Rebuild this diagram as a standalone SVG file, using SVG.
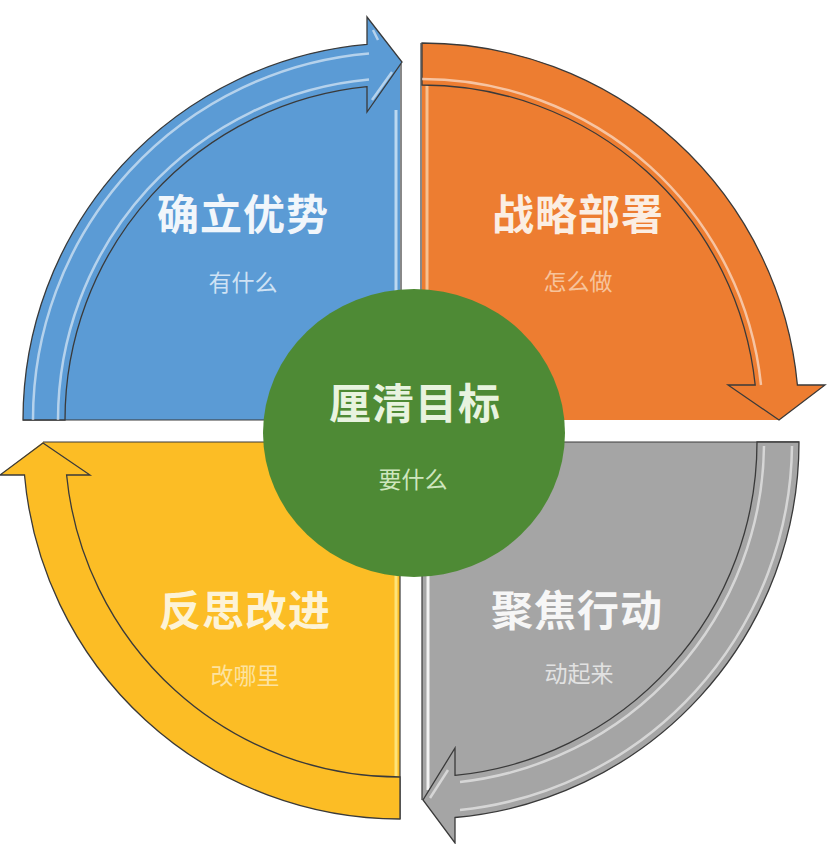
<svg xmlns="http://www.w3.org/2000/svg" width="834" height="844" viewBox="0 0 834 844">
<style>
.title{font-family:"Noto Sans CJK SC","Noto Sans",sans-serif;font-size:42px;font-weight:bold;text-anchor:middle;letter-spacing:1px}
.sub{font-family:"Noto Sans CJK SC","Noto Sans",sans-serif;font-size:23px;text-anchor:middle}
.band{stroke:#3a3a3a;stroke-width:1.3;stroke-linejoin:miter}
.hl{fill:none;stroke:#ffffff;stroke-width:2.5;stroke-opacity:0.55}
.edge{fill:none;stroke:#3a3a3a;stroke-width:1.2}
</style>
<rect width="834" height="844" fill="#ffffff"/>

<g id="node-blue">
<path d="M400 420 L23 420 A377 377 0 0 1 367 44.4 L367 17 L402 62 L400 66 Z" fill="#5b9bd5"/>
<line x1="396" y1="110" x2="396" y2="420" stroke="#bcd8f0" stroke-width="3"/>
<path class="edge" d="M401 64 L401 420 L23 420"/>
<text class="title" x="243" y="230" fill="#f1f6fb">确立优势</text>
<text class="sub" x="243" y="291" fill="#cfe2f4">有什么</text>
</g>

<g id="node-orange">
<path d="M422 420 L422 43 A377 377 0 0 1 797.4 385 L825 385 L779 420 Z" fill="#ed7d31"/>
<line x1="427" y1="45" x2="427" y2="420" stroke="#f8c08f" stroke-width="3"/>
<path class="edge" d="M421 420 L421 43"/>
<text class="title" x="578" y="230" fill="#fbeee3">战略部署</text>
<text class="sub" x="578" y="290" fill="#f7c39b">怎么做</text>
</g>

<g id="node-gray">
<path d="M422 442 L799 442 A377 377 0 0 1 455 817.5 L455 843 L423 800 L422 800 Z" fill="#a5a5a5"/>
<line x1="428" y1="444" x2="428" y2="790" stroke="#f2f2f2" stroke-width="3"/>
<path class="edge" d="M422 800 L422 442 L799 442"/>
<text class="title" x="577" y="626" fill="#f6f6f6">聚焦行动</text>
<text class="sub" x="579" y="682" fill="#e2e2e2">动起来</text>
</g>

<g id="node-yellow">
<path d="M400 442 L400 819 A377 377 0 0 1 24.5 475 L0 475 L43 442 Z" fill="#fcbd25"/>
<line x1="396" y1="444" x2="396" y2="817" stroke="#fde37a" stroke-width="3"/>
<path class="edge" d="M43 442 L400 442 L400 819"/>
<text class="title" x="245" y="626" fill="#fdf3d6">反思改进</text>
<text class="sub" x="245" y="684" fill="#fde3a0">改哪里</text>
</g>

<g id="connectors">
<path class="band" fill="#5b9bd5" d="M23 420 A377 377 0 0 1 367 44.4 L367 17 L402 62 L367 112 L367 86.6 A335 335 0 0 0 65 420 Z"/>
<path class="hl" d="M33 420 A367 367 0 0 1 369 53.5"/>
<path class="hl" d="M58 420 A342 342 0 0 1 369 79.5"/>
<path class="hl" d="M373 30 L378 40 M372 100 L392 72"/>

<path class="band" fill="#ed7d31" d="M422 43 A377 377 0 0 1 797.4 385 L825 385 L779 420 L728 385 L755.2 385 A335 335 0 0 0 422 85 Z"/>
<path class="hl" d="M422 79 A341 341 0 0 1 761 385" stroke="#ffd0a8" stroke-opacity="0.6"/>

<path class="band" fill="#a5a5a5" d="M799 442 A377 377 0 0 1 455 817.5 L455 843 L423 800 L455 748 L455 775.4 A335 335 0 0 0 757 442 Z"/>
<path class="hl" d="M792 446 A370 370 0 0 1 460 810" stroke-opacity="0.85"/>
<path class="hl" d="M764 446 A342 342 0 0 1 460 782" stroke-opacity="0.85"/>
<path class="hl" d="M430 798 L448 770" stroke-opacity="0.7"/>

<path class="band" fill="#fcbd25" d="M400 819 A377 377 0 0 1 24.5 475 L0 475 L43 443 L90 475 L66.6 475 A335 335 0 0 0 400 777 Z"/>
</g>

<g id="node-center">
<ellipse cx="414" cy="433" rx="151" ry="144" fill="#4e8a35"/>
<text class="title" x="415" y="419" fill="#e8f3df">厘清目标</text>
<text class="sub" x="413" y="488" fill="#cfe6bf">要什么</text>
</g>
</svg>
